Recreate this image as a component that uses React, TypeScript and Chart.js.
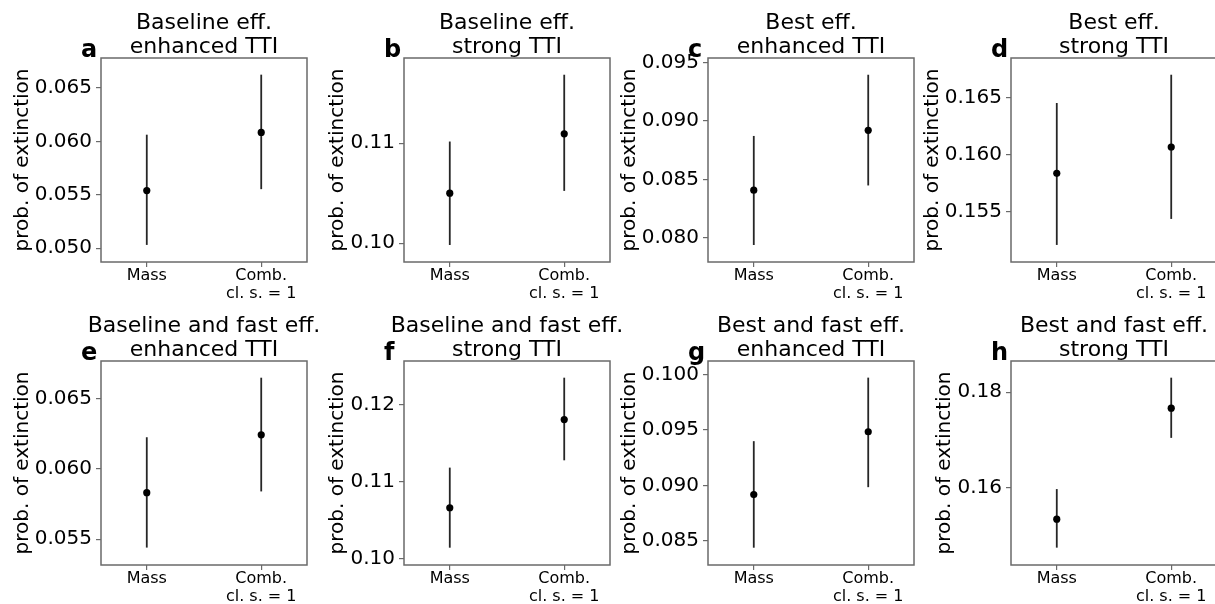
import React, { useEffect, useRef } from 'react';
import { Chart, registerables } from 'chart.js';

Chart.register(...registerables);

// ---------- data ----------
const categories: (string | string[])[] = ['Mass', ['Comb.', 'cl. s. = 1']];
const categoryPositions = [0, 1];

const panelLetters = ['a', 'b', 'c', 'd', 'e', 'f', 'g', 'h'];
const titleLine1 = [
  'Baseline eff.', 'Baseline eff.', 'Best eff.', 'Best eff.',
  'Baseline and fast eff.', 'Baseline and fast eff.', 'Best and fast eff.', 'Best and fast eff.',
];
const titleLine2 = [
  'enhanced TTI', 'strong TTI', 'enhanced TTI', 'strong TTI',
  'enhanced TTI', 'strong TTI', 'enhanced TTI', 'strong TTI',
];
const yAxisTitle = 'prob. of extinction';

const massMean = [0.0554, 0.1050, 0.08409, 0.15837, 0.05831, 0.10657, 0.08918, 0.15335];
const massLow = [0.05031, 0.09983, 0.0794, 0.15212, 0.0544, 0.10138, 0.08439, 0.14737];
const massHigh = [0.06063, 0.11016, 0.08872, 0.16451, 0.06226, 0.11179, 0.094, 0.15966];

const combMean = [0.06084, 0.11093, 0.0892, 0.16067, 0.06243, 0.11804, 0.09485, 0.17663];
const combLow = [0.05553, 0.10523, 0.08449, 0.15439, 0.0584, 0.11274, 0.08985, 0.1704];
const combHigh = [0.06625, 0.11683, 0.09395, 0.16698, 0.0665, 0.12348, 0.09973, 0.18303];

const yTickLabels = [
  ['0.050', '0.055', '0.060', '0.065'],
  ['0.10', '0.11'],
  ['0.080', '0.085', '0.090', '0.095'],
  ['0.155', '0.160', '0.165'],
  ['0.055', '0.060', '0.065'],
  ['0.10', '0.11', '0.12'],
  ['0.085', '0.090', '0.095', '0.100'],
  ['0.16', '0.18'],
];
const yMin = [0.04871, 0.09813, 0.07795, 0.15063, 0.05316, 0.09913, 0.08283, 0.14373];
const yMax = [0.06781, 0.1185, 0.09538, 0.16844, 0.06769, 0.12565, 0.10123, 0.18653];

// ---------- layout / style ----------
const FONT = '"DejaVu Sans", sans-serif';
const PLOT_W = 206;
const PLOT_H = 204;
const TOPPAD = 55;
const RPAD = 25;
const XH = 46;
const colLefts = [101, 404, 708, 1011];
const rowTops = [58, 361];
const SPINE = '#6a6a6a';
const ERR = '#262626';

function Panel({ i }: { i: number }) {
  const ref = useRef<HTMLCanvasElement | null>(null);
  const decimals = yTickLabels[i][0].split('.')[1].length;
  const YW = decimals >= 3 ? 90 : 78;
  const W = YW + PLOT_W + RPAD;
  const H = TOPPAD + PLOT_H + XH;
  const plotLeft = colLefts[i % 4];
  const plotTop = rowTops[Math.floor(i / 4)];

  useEffect(() => {
    if (!ref.current) return;
    const decor = {
      id: 'panelDecor' + i,
      afterDraw(chart: any) {
        const { ctx, chartArea: ca } = chart;
        ctx.save();
        ctx.strokeStyle = SPINE;
        ctx.lineWidth = 1.5;
        ctx.strokeRect(ca.left, ca.top, ca.right - ca.left, ca.bottom - ca.top);
        ctx.fillStyle = '#000';
        ctx.font = '22px ' + FONT;
        ctx.textAlign = 'center';
        ctx.textBaseline = 'alphabetic';
        const cx = (ca.left + ca.right) / 2;
        ctx.fillText(titleLine1[i], cx, ca.top - 29.5);
        ctx.fillText(titleLine2[i], cx, ca.top - 5.5);
        ctx.font = 'bold 24px ' + FONT;
        ctx.textAlign = 'left';
        ctx.fillText(panelLetters[i], ca.left - 20, ca.top - 1.5);
        ctx.restore();
      },
    };

    const chart = new Chart(ref.current, {
      type: 'scatter',
      data: {
        datasets: [
          {
            data: [
              { x: categoryPositions[0], y: massMean[i] },
              { x: categoryPositions[1], y: combMean[i] },
            ],
            pointRadius: 3.6,
            pointBackgroundColor: '#000',
            pointBorderColor: '#000',
            pointBorderWidth: 0,
            order: 0,
          },
          {
            data: [
              { x: categoryPositions[0], y: massLow[i] },
              { x: categoryPositions[0], y: massHigh[i] },
            ],
            showLine: true,
            pointRadius: 0,
            borderColor: ERR,
            borderWidth: 1.8,
            order: 1,
          },
          {
            data: [
              { x: categoryPositions[1], y: combLow[i] },
              { x: categoryPositions[1], y: combHigh[i] },
            ],
            showLine: true,
            pointRadius: 0,
            borderColor: ERR,
            borderWidth: 1.8,
            order: 1,
          },
        ],
      },
      options: {
        responsive: false,
        animation: false,
        events: [],
        layout: { padding: { top: TOPPAD, right: RPAD, left: 0, bottom: 0 } },
        plugins: {
          legend: { display: false },
          tooltip: { enabled: false },
          title: { display: false },
        },
        scales: {
          x: {
            type: 'linear',
            min: -0.4,
            max: 1.4,
            afterBuildTicks: (s: any) => {
              s.ticks = categoryPositions.map((v) => ({ value: v }));
            },
            afterFit: (s: any) => {
              s.height = XH;
            },
            ticks: {
              callback: (_v: any, idx: number) => categories[idx] as any,
              font: { family: FONT, size: 16, lineHeight: 1.1 },
              color: '#000',
              padding: 0,
              maxRotation: 0,
              minRotation: 0,
              autoSkip: false,
            },
            grid: {
              display: true,
              drawOnChartArea: false,
              drawTicks: true,
              tickLength: 5,
              color: SPINE,
              lineWidth: 1.2,
            },
            border: { display: false },
          },
          y: {
            type: 'linear',
            min: yMin[i],
            max: yMax[i],
            afterBuildTicks: (s: any) => {
              s.ticks = yTickLabels[i].map((t) => ({ value: parseFloat(t) }));
            },
            afterFit: (s: any) => {
              s.width = YW;
            },
            ticks: {
              callback: (_v: any, idx: number) => yTickLabels[i][idx],
              font: { family: FONT, size: 20 },
              color: '#000',
              padding: 4,
              autoSkip: false,
            },
            grid: {
              display: true,
              drawOnChartArea: false,
              drawTicks: true,
              tickLength: 5,
              color: SPINE,
              lineWidth: 1.2,
            },
            border: { display: false },
            title: {
              display: true,
              text: yAxisTitle,
              font: { family: FONT, size: 20, lineHeight: 1.2 },
              color: '#000',
              padding: 0,
            },
          },
        },
      } as any,
      plugins: [decor],
    });
    return () => chart.destroy();
  }, [i]);

  return (
    <canvas
      ref={ref}
      width={W}
      height={H}
      style={{
        position: 'absolute',
        left: plotLeft - YW,
        top: plotTop - TOPPAD,
        width: W,
        height: H,
      }}
    />
  );
}

export default function App() {
  return (
    <div
      style={{
        position: 'absolute',
        left: 0,
        top: 0,
        width: 1215,
        height: 604,
        overflow: 'hidden',
        background: '#fff',
      }}
    >
      {panelLetters.map((_, i) => (
        <Panel key={i} i={i} />
      ))}
    </div>
  );
}
